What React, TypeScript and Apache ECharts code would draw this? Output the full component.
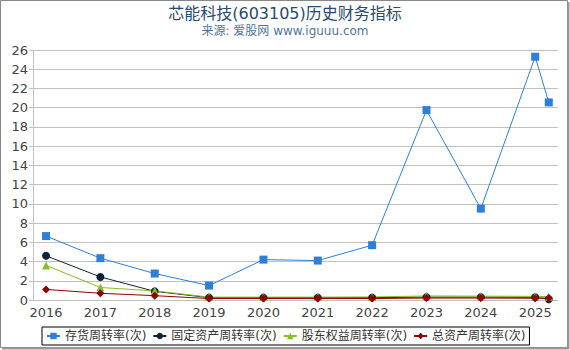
import React, { useEffect, useRef } from "react";
import * as echarts from "echarts";

const xValues = [2016, 2017, 2018, 2019, 2020, 2021, 2022, 2023, 2024, 2025, 2025.25];
const yearTicks = [2016, 2017, 2018, 2019, 2020, 2021, 2022, 2023, 2024, 2025];
const inventoryTurnover = [6.65, 4.35, 2.75, 1.5, 4.2, 4.1, 5.7, 19.75, 9.5, 25.3, 20.55];
const fixedAssetTurnover = [4.6, 2.4, 0.9, 0.25, 0.25, 0.25, 0.25, 0.3, 0.3, 0.28, 0.08];
const equityTurnover = [3.6, 1.3, 0.95, 0.3, 0.3, 0.3, 0.32, 0.42, 0.4, 0.38, 0.35];
const totalAssetTurnover = [1.1, 0.7, 0.45, 0.15, 0.15, 0.15, 0.15, 0.2, 0.2, 0.18, 0.22];
const seriesNames = ["存货周转率(次)", "固定资产周转率(次)", "股东权益周转率(次)", "总资产周转率(次)"];

const FONT = "'DejaVu Sans', 'Noto Sans CJK SC', sans-serif";

export default function App() {
  const ref = useRef<HTMLDivElement>(null);
  useEffect(() => {
    if (!ref.current) return;
    const chart = echarts.init(ref.current, undefined, { renderer: "svg" });
    const mk = (vals: number[]) => xValues.map((x, i) => [x, vals[i]]);
    const defs = [
      { name: seriesNames[0], data: inventoryTurnover, color: "#2f7ed8", symbol: "rect", size: 8 },
      { name: seriesNames[1], data: fixedAssetTurnover, color: "#0d233a", symbol: "circle", size: 8 },
      { name: seriesNames[2], data: equityTurnover, color: "#8bbc21", symbol: "triangle", size: 8 },
      { name: seriesNames[3], data: totalAssetTurnover, color: "#910000", symbol: "diamond", size: 8 },
    ];
    chart.setOption({
      animation: false,
      textStyle: { fontFamily: FONT },
      title: {
        text: "芯能科技(603105)历史财务指标",
        subtext: "来源: 爱股网 www.iguuu.com",
        left: "center",
        top: 0,
        itemGap: 4,
        textStyle: { fontSize: 16, fontWeight: "normal", color: "#274b6d", fontFamily: FONT },
        subtextStyle: { fontSize: 12, color: "#4d759e", fontFamily: FONT },
      },
      grid: { left: 33, right: 12, top: 50, bottom: 50 },
      xAxis: {
        type: "value",
        min: 2015.76,
        max: 2025.42,
        splitLine: { show: false },
        axisLine: { lineStyle: { color: "#c0c0c0" } },
        axisTick: { show: false },
        axisLabel: {
          customValues: yearTicks,
          color: "#444",
          fontSize: 13,
          margin: 6,
          fontFamily: FONT,
          formatter: (v: number) => String(Math.round(v)),
        },
      },
      yAxis: {
        type: "value",
        min: 0,
        max: 26,
        interval: 2,
        axisLine: { show: true, lineStyle: { color: "#c0c0c0" } },
        axisTick: { show: true, length: 4, lineStyle: { color: "#c0c0c0" } },
        splitLine: { lineStyle: { color: "#c0c0c0" } },
        axisLabel: { color: "#444", fontSize: 13, margin: 5, fontFamily: FONT },
      },
      legend: {
        left: 42,
        top: 327,
        itemWidth: 13,
        itemHeight: 8,
        itemGap: 6,
        padding: [3, 4],
        borderColor: "#000",
        borderWidth: 1,
        textStyle: { fontSize: 12, color: "#333", fontFamily: FONT },
        data: seriesNames,
      },
      series: defs.map((d) => ({
        name: d.name,
        type: "line",
        data: mk(d.data),
        symbol: d.symbol,
        symbolSize: d.size,
        itemStyle: { color: d.color },
        lineStyle: { color: d.color, width: 1 },
      })),
      graphic: [
        {
          type: "rect",
          shape: { x: 0.5, y: 0.5, width: 567, height: 347 },
          style: { fill: "none", stroke: "#888", lineWidth: 1 },
          silent: true,
        },
        {
          type: "line",
          shape: { x1: 568.5, y1: 2, x2: 568.5, y2: 349 },
          style: { stroke: "#999", lineWidth: 2 },
          silent: true,
        },
        {
          type: "line",
          shape: { x1: 2, y1: 348.5, x2: 569, y2: 348.5 },
          style: { stroke: "#999", lineWidth: 2 },
          silent: true,
        },
      ],
    });
    return () => chart.dispose();
  }, []);
  return <div ref={ref} style={{ width: 570, height: 350, position: "absolute", left: 0, top: 0 }} />;
}
